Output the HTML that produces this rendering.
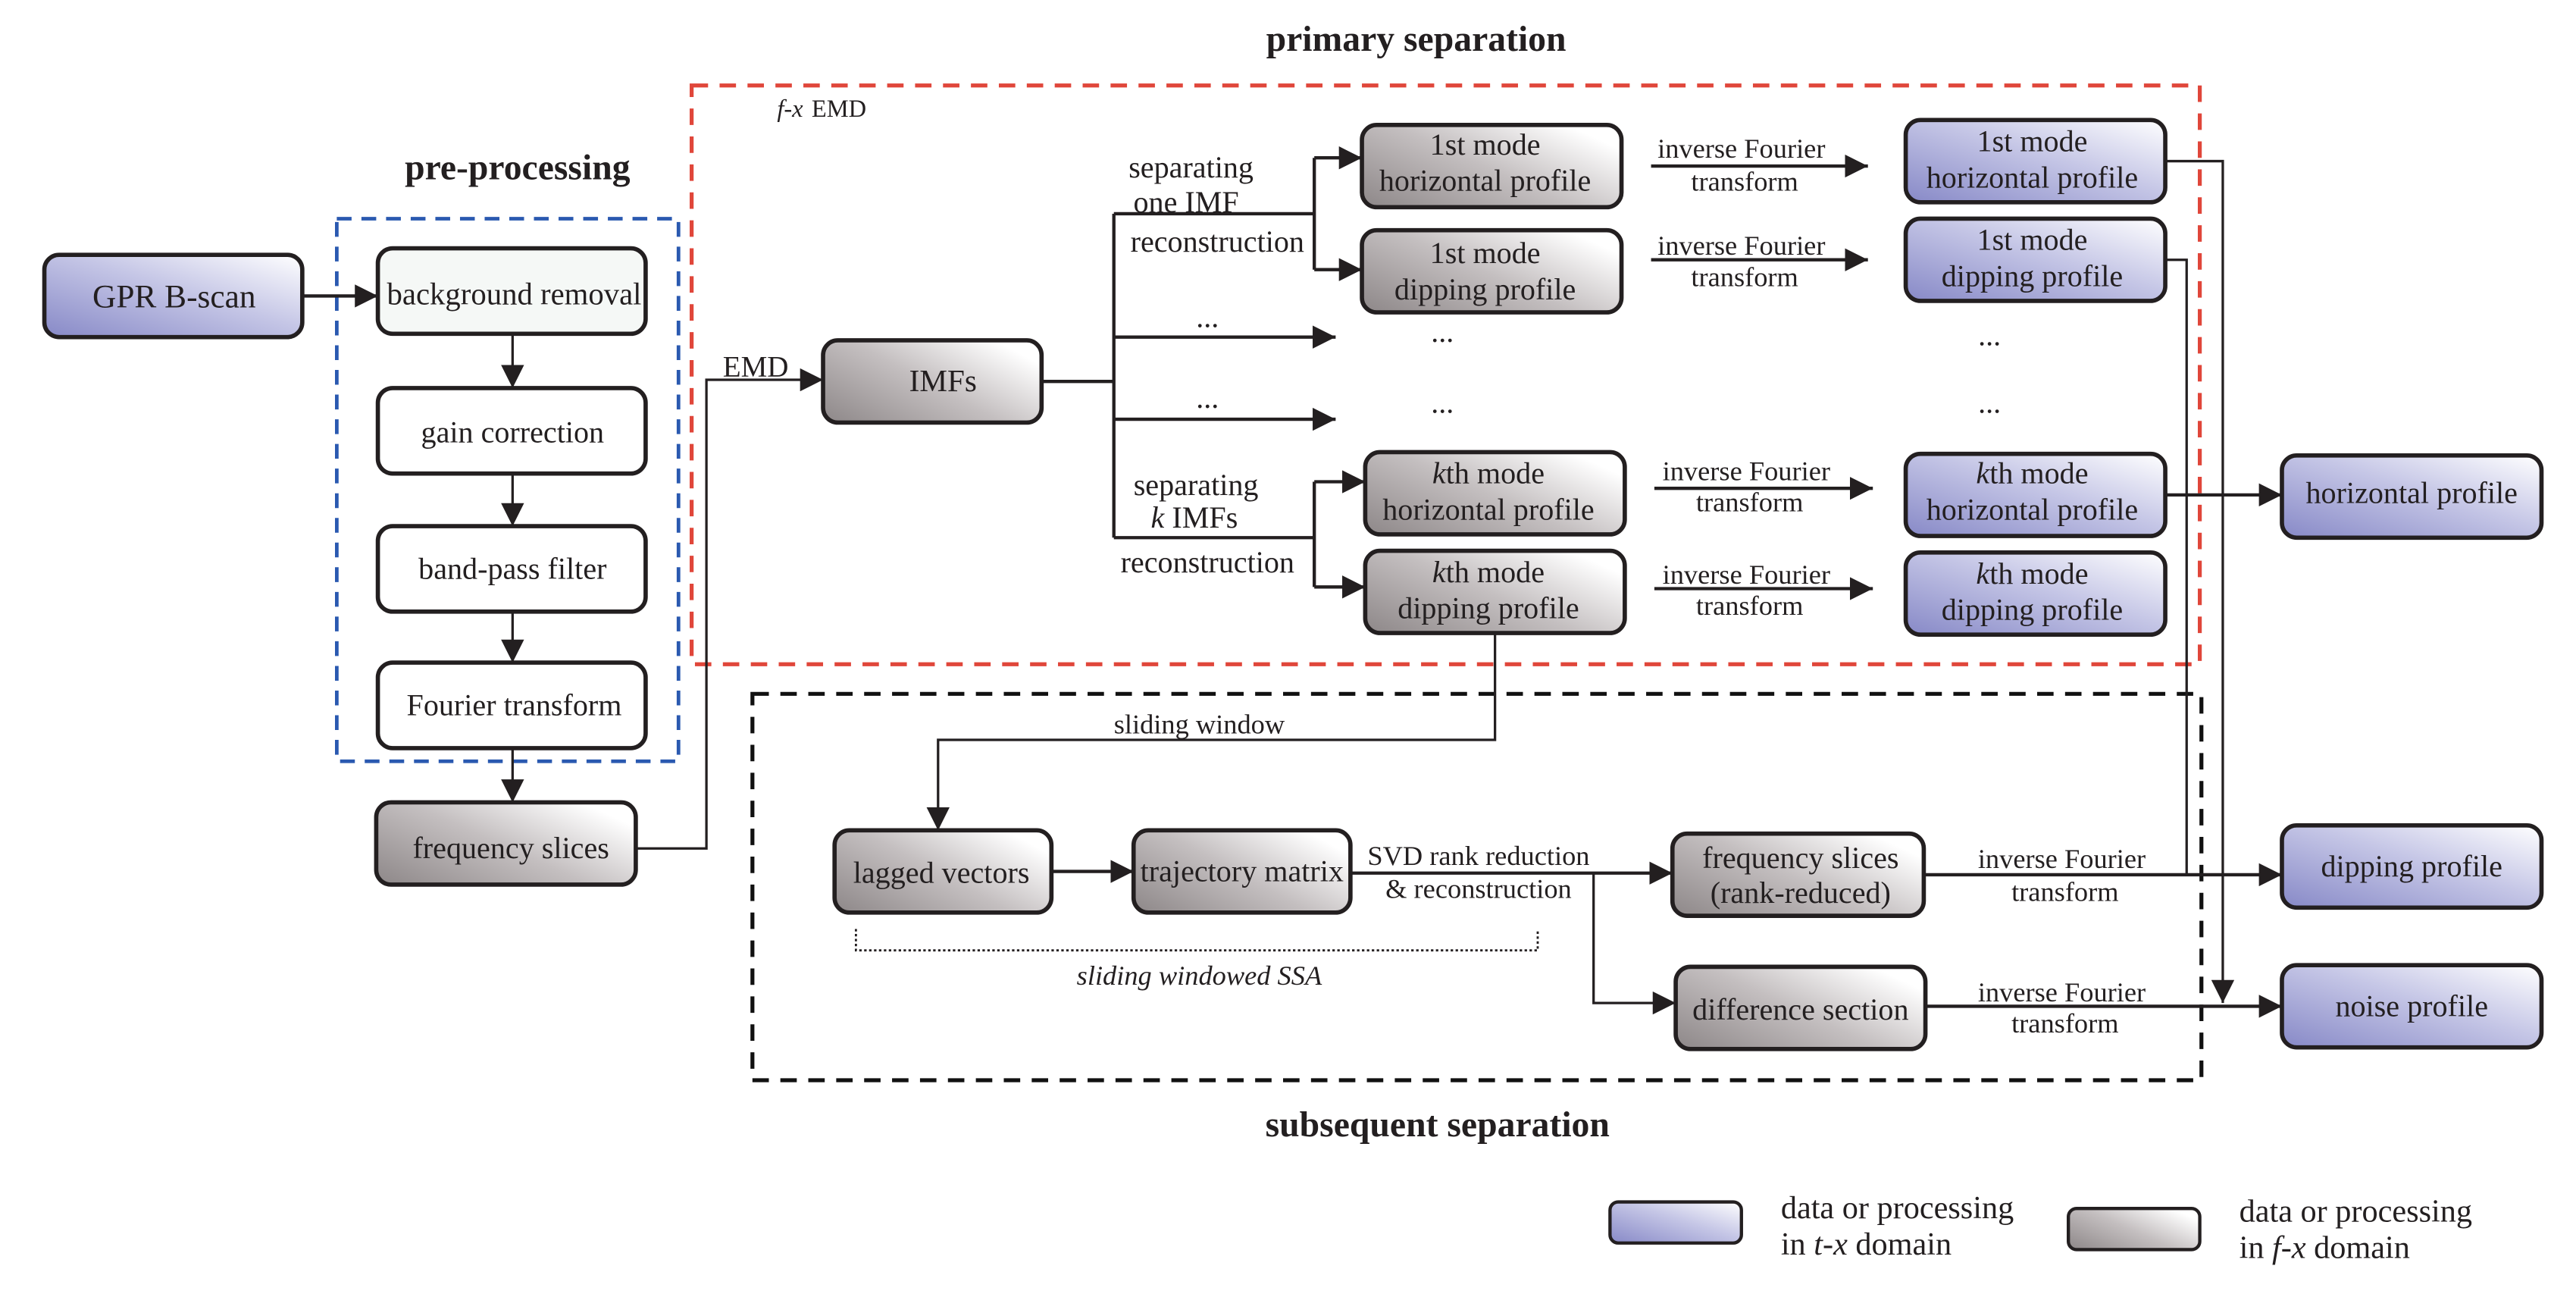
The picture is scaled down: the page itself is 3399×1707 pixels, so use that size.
<!DOCTYPE html>
<html><head><meta charset="utf-8"><style>
html,body{margin:0;padding:0;background:#fff}
svg{display:block}
text{font-family:"Liberation Serif",serif;fill:#231f20}
.t{font-size:18.5px;text-anchor:middle}
.s{font-size:16.8px;text-anchor:middle}
.b{font-size:22px;font-weight:bold;text-anchor:middle}
.box{stroke:#231f20;stroke-width:2.6}
.ln{stroke:#231f20;stroke-width:2;fill:none}
.ln2{stroke:#231f20;stroke-width:1.5;fill:none}
</style></head><body>
<svg width="3399" height="1707" viewBox="0 0 1568 787" preserveAspectRatio="none" xmlns="http://www.w3.org/2000/svg">
<defs>
<linearGradient id="g" x1="0" y1="1" x2="1" y2="0.3"><stop offset="0" stop-color="#8d8788"/><stop offset="0.55" stop-color="#c4bfc0"/><stop offset="1" stop-color="#ffffff"/></linearGradient>
<linearGradient id="bl" x1="0" y1="1" x2="1" y2="0"><stop offset="0" stop-color="#8789c7"/><stop offset="0.55" stop-color="#c5c6e6"/><stop offset="1" stop-color="#ffffff"/></linearGradient>
<marker id="A" viewBox="0 0 10 10" refX="10" refY="5" markerWidth="14" markerHeight="14" markerUnits="userSpaceOnUse" orient="auto"><path d="M0,0L10,5L0,10z" fill="#231f20"/></marker>
</defs>

<text class="b" x="862" y="31">primary separation</text>
<text class="b" x="315" y="109">pre-processing</text>
<text class="b" x="875" y="691">subsequent separation</text>
<text x="473" y="71" style="font-size:15px;font-style:italic">f-x</text><text x="494" y="71" style="font-size:15px">EMD</text>

<rect x="205" y="133" width="208" height="330" fill="none" stroke="#2a59b0" stroke-width="2.2" stroke-dasharray="9,6"/>
<rect x="421" y="52" width="918" height="352" fill="none" stroke="#e0463a" stroke-width="2.4" stroke-dasharray="10,7"/>
<rect x="458" y="422" width="882" height="235" fill="none" stroke="#111" stroke-width="2.4" stroke-dasharray="10,7"/>

<path class="ln" d="M184,180H230" marker-end="url(#A)"/>
<path class="ln2" d="M312,203V236" marker-end="url(#A)"/>
<path class="ln2" d="M312,288V320" marker-end="url(#A)"/>
<path class="ln2" d="M312,372V403" marker-end="url(#A)"/>
<path class="ln2" d="M312,455V488" marker-end="url(#A)"/>
<path class="ln2" d="M387,516H430V231H501" marker-end="url(#A)"/>
<text x="440" y="229" style="font-size:18px">EMD</text>
<path class="ln" d="M634,232H678"/>
<path class="ln" d="M678,130V327"/>
<path class="ln" d="M678,130H800"/>
<path class="ln" d="M800,96V164"/>
<path class="ln" d="M800,96H829" marker-end="url(#A)"/>
<path class="ln" d="M800,164H829" marker-end="url(#A)"/>
<path class="ln" d="M678,205H813" marker-end="url(#A)"/>
<path class="ln" d="M678,255H813" marker-end="url(#A)"/>
<path class="ln" d="M678,327H800"/>
<path class="ln" d="M800,293V357"/>
<path class="ln" d="M800,293H831" marker-end="url(#A)"/>
<path class="ln" d="M800,357H831" marker-end="url(#A)"/>
<text class="t" x="725" y="108">separating</text>
<text class="t" x="722" y="129">one IMF</text>
<text class="t" x="741" y="153">reconstruction</text>
<text class="t" x="735" y="199">...</text>
<text class="t" x="735" y="248">...</text>
<text class="t" x="878" y="208">...</text>
<text class="t" x="878" y="251">...</text>
<text class="t" x="1211" y="210">...</text>
<text class="t" x="1211" y="251">...</text>
<text class="t" x="728" y="301">separating</text>
<text class="t" x="727" y="321"><tspan font-style="italic">k</tspan> IMFs</text>
<text class="t" x="735" y="348">reconstruction</text>

<path class="ln" d="M1005,101H1137" marker-end="url(#A)"/>
<text class="s" x="1060" y="96">inverse Fourier</text><text class="s" x="1062" y="116">transform</text>
<path class="ln" d="M1005,158H1137" marker-end="url(#A)"/>
<text class="s" x="1060" y="155">inverse Fourier</text><text class="s" x="1062" y="174">transform</text>
<path class="ln" d="M1007,297H1140" marker-end="url(#A)"/>
<text class="s" x="1063" y="292">inverse Fourier</text><text class="s" x="1065" y="311">transform</text>
<path class="ln" d="M1007,358H1140" marker-end="url(#A)"/>
<text class="s" x="1063" y="355">inverse Fourier</text><text class="s" x="1065" y="374">transform</text>

<path class="ln2" d="M1318,98H1353V610" marker-end="url(#A)"/>
<path class="ln2" d="M1318,158H1331V532"/>
<path class="ln" d="M1318,301H1389" marker-end="url(#A)"/>

<path class="ln2" d="M910,385V450H571V505" marker-end="url(#A)"/>
<text class="s" x="730" y="446">sliding window</text>
<path class="ln" d="M640,530H690" marker-end="url(#A)"/>
<path class="ln" d="M822,531H1018" marker-end="url(#A)"/>
<text class="s" x="900" y="526">SVD rank reduction</text>
<text class="s" x="900" y="546">&amp; reconstruction</text>
<path class="ln2" d="M970,531V610H1020" marker-end="url(#A)"/>
<path class="ln" d="M1171,532H1389" marker-end="url(#A)"/>
<text class="s" x="1255" y="528">inverse Fourier</text><text class="s" x="1257" y="548">transform</text>
<path class="ln" d="M1172,612H1389" marker-end="url(#A)"/>
<text class="s" x="1255" y="609">inverse Fourier</text><text class="s" x="1257" y="628">transform</text>
<path d="M521,565V578H936V565" fill="none" stroke="#231f20" stroke-width="1.3" stroke-dasharray="1.5,1.5"/>
<text class="s" x="730" y="599" font-style="italic">sliding windowed SSA</text>

<g class="box">
<rect x="27" y="155" width="157" height="50" rx="9" fill="url(#bl)"/>
<rect x="230" y="151" width="163" height="52" rx="9" fill="#f5f8f6"/>
<rect x="230" y="236" width="163" height="52" rx="9" fill="#fff"/>
<rect x="230" y="320" width="163" height="52" rx="9" fill="#fff"/>
<rect x="230" y="403" width="163" height="52" rx="9" fill="#fff"/>
<rect x="229" y="488" width="158" height="50" rx="9" fill="url(#g)"/>
<rect x="501" y="207" width="133" height="50" rx="9" fill="url(#g)"/>
<rect x="829" y="76" width="158" height="50" rx="9" fill="url(#g)"/>
<rect x="829" y="140" width="158" height="50" rx="9" fill="url(#g)"/>
<rect x="831" y="275" width="158" height="50" rx="9" fill="url(#g)"/>
<rect x="831" y="335" width="158" height="50" rx="9" fill="url(#g)"/>
<rect x="1160" y="73" width="158" height="50" rx="9" fill="url(#bl)"/>
<rect x="1160" y="133" width="158" height="50" rx="9" fill="url(#bl)"/>
<rect x="1160" y="276" width="158" height="50" rx="9" fill="url(#bl)"/>
<rect x="1160" y="336" width="158" height="50" rx="9" fill="url(#bl)"/>
<rect x="1389" y="277" width="158" height="50" rx="9" fill="url(#bl)"/>
<rect x="1389" y="502" width="158" height="50" rx="9" fill="url(#bl)"/>
<rect x="1389" y="587" width="158" height="50" rx="9" fill="url(#bl)"/>
<rect x="508" y="505" width="132" height="50" rx="9" fill="url(#g)"/>
<rect x="690" y="505" width="132" height="50" rx="9" fill="url(#g)"/>
<rect x="1018" y="507" width="153" height="50" rx="9" fill="url(#g)"/>
<rect x="1020" y="588" width="152" height="50" rx="9" fill="url(#g)"/>
<rect x="980" y="731" width="80" height="25" rx="5" fill="url(#bl)" stroke-width="2"/>
<rect x="1259" y="735" width="80" height="25" rx="5" fill="url(#g)" stroke-width="2"/>
</g>

<text class="t" x="106" y="187" style="font-size:20px">GPR B-scan</text>
<text class="t" x="313" y="185" style="font-size:18.8px">background removal</text>
<text class="t" x="312" y="269">gain correction</text>
<text class="t" x="312" y="352">band-pass filter</text>
<text class="t" x="313" y="435">Fourier transform</text>
<text class="t" x="311" y="522">frequency slices</text>
<text class="t" x="574" y="238" style="font-size:19px">IMFs</text>
<text class="t" x="904" y="94">1st mode</text><text class="t" x="904" y="116">horizontal profile</text>
<text class="t" x="904" y="160">1st mode</text><text class="t" x="904" y="182">dipping profile</text>
<text class="t" x="906" y="294"><tspan font-style="italic">k</tspan>th mode</text><text class="t" x="906" y="316">horizontal profile</text>
<text class="t" x="906" y="354"><tspan font-style="italic">k</tspan>th mode</text><text class="t" x="906" y="376">dipping profile</text>
<text class="t" x="1237" y="92">1st mode</text><text class="t" x="1237" y="114">horizontal profile</text>
<text class="t" x="1237" y="152">1st mode</text><text class="t" x="1237" y="174">dipping profile</text>
<text class="t" x="1237" y="294"><tspan font-style="italic">k</tspan>th mode</text><text class="t" x="1237" y="316">horizontal profile</text>
<text class="t" x="1237" y="355"><tspan font-style="italic">k</tspan>th mode</text><text class="t" x="1237" y="377">dipping profile</text>
<text class="t" x="1468" y="306">horizontal profile</text>
<text class="t" x="1468" y="533">dipping profile</text>
<text class="t" x="1468" y="618">noise profile</text>
<text class="t" x="573" y="537">lagged vectors</text>
<text class="t" x="756" y="536">trajectory matrix</text>
<text class="t" x="1096" y="528">frequency slices</text><text class="t" x="1096" y="549">(rank-reduced)</text>
<text class="t" x="1096" y="620">difference section</text>

<text x="1084" y="741" style="font-size:19.5px">data or processing</text>
<text x="1084" y="763" style="font-size:19.5px">in <tspan font-style="italic">t-x</tspan> domain</text>
<text x="1363" y="743" style="font-size:19.5px">data or processing</text>
<text x="1363" y="765" style="font-size:19.5px">in <tspan font-style="italic">f-x</tspan> domain</text>
</svg>
</body></html>
